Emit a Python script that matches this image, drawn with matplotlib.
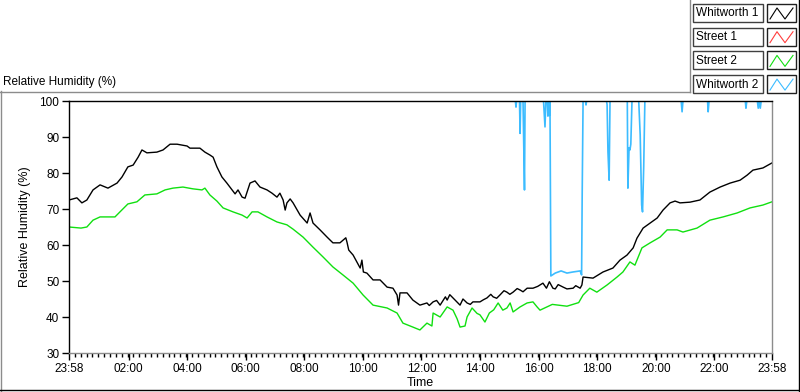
import matplotlib
matplotlib.use("Agg")
import matplotlib.pyplot as plt
from matplotlib.lines import Line2D
from matplotlib.patches import Rectangle

plt.rcParams['font.family'] = ['Liberation Sans', 'DejaVu Sans']

# hours after 23:58 and relative humidity
whit1_t = [0, 0.27, 0.44, 0.61, 0.82, 1.06, 1.33, 1.64, 1.81, 2.01, 2.19, 2.36, 2.49, 2.66,
           3.0, 3.21, 3.45, 3.69, 4.03, 4.13, 4.47, 4.64, 4.81, 4.92, 5.05, 5.22, 5.39,
           5.57, 5.67, 5.77, 5.91, 6.01, 6.18, 6.35, 6.52, 6.76, 6.93, 7.10, 7.20, 7.31,
           7.38, 7.44, 7.55, 7.65, 7.89, 8.13, 8.23, 8.33, 8.57, 8.81, 9.01, 9.25, 9.45,
           9.49, 9.55, 9.70, 9.94, 10.0, 10.05, 10.17, 10.38, 10.62, 10.86, 11.06, 11.20,
           11.25, 11.30, 11.54, 11.74, 11.98,
           12.22, 12.30, 12.43, 12.55, 12.67, 12.85, 12.91, 13.0, 13.11, 13.35, 13.45,
           13.59, 13.70, 13.79, 14.03, 14.15, 14.27, 14.40, 14.48, 14.60, 14.71, 14.85,
           14.95, 15.05, 15.16, 15.30, 15.40, 15.50, 15.64, 15.84, 16.0, 16.18, 16.30,
           16.40, 16.52, 16.60, 16.70, 16.87, 17.0, 17.21, 17.30, 17.45, 17.51,
           17.55, 17.89, 18.23, 18.57, 18.81,
           19.05, 19.26, 19.39, 19.60, 19.84, 20.08, 20.28, 20.52, 20.69, 20.86, 21.20,
           21.54, 21.88, 22.23, 22.57, 22.91, 23.15, 23.35, 23.69, 24.0]
whit1_v = [72.5, 73.1, 71.7, 72.5, 75.3, 76.7, 75.8, 77.2, 78.9, 81.7, 82.2, 84.4, 86.4, 85.6,
           85.8, 86.4, 88.0, 88.0, 87.5, 86.9, 86.9, 85.8, 85.0, 84.4, 81.7, 78.9, 77.2,
           75.3, 74.2, 75.3, 73.3, 73.0, 77.2, 77.8, 76.1, 75.3, 74.4, 73.3, 74.4, 72.5,
           69.7, 71.7, 72.8, 71.7, 68.3, 66.1, 68.9, 66.1, 64.2, 62.2, 60.6, 60.6, 62.0,
           60.8, 58.6, 57.2, 53.6, 55.8, 52.5, 52.2, 50.3, 50.3, 48.3, 48.0, 46.1,
           43.3, 46.7, 46.7, 44.7, 43.3,
           43.9, 43.2, 44.2, 44.6, 43.3, 45.6, 44.7, 46.2, 45.3, 43.3, 45.0,
           43.9, 43.5, 44.2, 44.2, 44.8, 45.3, 46.3, 45.6, 45.2, 46.1, 47.3,
           46.9, 46.3, 46.9, 47.9, 47.5, 47.0, 48.0, 48.0, 48.5, 49.4, 48.0,
           49.8, 48.0, 47.8, 49.0, 48.3, 47.8, 48.0, 48.7, 48.0, 48.9,
           51.1, 50.8, 52.5, 53.6, 55.8,
           57.2, 59.2, 61.9, 64.7, 66.1, 67.5, 69.7, 71.7, 72.2, 71.7, 71.9,
           72.5, 74.7, 76.1, 77.2, 78.0, 79.4, 80.8, 81.4, 82.8]

street2_t = [0, 0.41, 0.61, 0.82, 1.06, 1.40, 1.57, 1.74, 2.01, 2.32, 2.59, 3.0, 3.28, 3.55,
             3.89, 4.23, 4.54, 4.64, 4.81, 5.05, 5.26, 5.60, 5.91, 6.08, 6.25, 6.45, 6.76,
             7.10, 7.44, 7.65, 7.99, 8.33, 8.67, 9.01, 9.35, 9.70, 10.04, 10.38, 10.86,
             11.20, 11.40, 11.74, 11.98, 12.22, 12.39, 12.43, 12.67,
             12.91, 13.11, 13.25, 13.35, 13.52, 13.59, 13.76, 13.93, 14.03, 14.20, 14.35,
             14.50, 14.65, 14.81, 14.95, 15.06, 15.16, 15.40, 15.64, 15.84, 15.98, 16.08,
             16.5, 17.0, 17.4, 17.55, 17.78, 18.02, 18.37, 18.71, 18.91, 19.15, 19.32,
             19.56, 19.84, 20.18, 20.42, 20.76, 20.96, 21.44, 21.88, 22.33, 22.81, 23.25,
             23.69, 24.0]
street2_v = [65.0, 64.7, 65.0, 66.9, 67.8, 67.8, 67.8, 69.2, 71.4, 72.0, 73.9, 74.2, 75.3, 75.8,
             76.1, 75.6, 75.3, 75.8, 73.9, 72.2, 70.3, 69.2, 68.3, 67.5, 69.2, 69.2, 67.8,
             66.4, 65.6, 64.4, 62.2, 59.4, 56.7, 53.9, 51.7, 49.4, 46.1, 43.3, 42.5,
             41.1, 38.3, 37.2, 36.4, 38.3, 37.5, 41.1, 40.0,
             42.8, 41.9, 39.5, 37.2, 37.5, 40.0, 42.5, 41.0, 40.6, 38.6, 41.1,
             42.0, 43.9, 41.9, 42.5, 43.9, 41.4, 42.8, 43.9, 44.2, 42.8, 41.9,
             43.5, 43.0, 44.0, 46.1, 48.0, 46.9, 48.9, 51.1, 52.5, 55.3, 54.4,
             59.2, 60.6, 62.2, 64.2, 64.2, 63.6, 64.7, 66.9, 67.8, 68.9, 70.3,
             71.1, 72.0]

whit2_t = [0, 15.24, 15.26, 15.28, 15.38, 15.40, 15.42, 15.50, 15.53, 15.55, 15.57, 16.2,
           16.25, 16.28, 16.33, 16.35, 16.38, 16.40, 16.42, 16.45, 16.6, 16.8, 17.0, 17.2,
           17.45, 17.50, 17.52, 17.55, 17.63, 17.65, 17.67, 18.35, 18.37, 18.40, 18.44,
           18.47, 18.50, 19.06, 19.08, 19.12, 19.15, 19.18, 19.22, 19.45, 19.50, 19.55,
           19.58, 19.62, 19.66, 19.70, 20.90, 20.93, 20.96, 21.80, 21.82, 21.85, 23.09,
           23.11, 23.14, 23.50, 23.53, 23.56, 23.60, 23.63, 24.0]
whit2_v = [100, 100, 98.3, 100, 100, 91, 100, 100, 85, 75.3, 100, 100,
           92.8, 100, 100, 95.8, 100, 96, 100, 51.4, 52.2, 52.8, 52.2, 52.5,
           52.8, 51.7, 74, 100, 100, 98.9, 100, 100, 99, 85.8, 78, 100, 100,
           100, 75.8, 87, 86.4, 88, 100, 100, 90.6, 71.1, 69.2, 81.7, 100, 100,
           100, 97, 100, 100, 97, 100, 100, 98, 100, 100, 98, 100, 98, 100, 100]

series_names = ['Whitworth 1', 'Street 1', 'Street 2', 'Whitworth 2']
series_colors = ['#000000', '#ff3c3c', '#10e010', '#3cbcff']

tick_pos = [0] + [h + 2 / 60 for h in range(2, 24, 2)] + [24]
tick_labels = ['23:58'] + ['%02d:00' % h for h in range(2, 24, 2)] + ['23:58']

fig = plt.figure(figsize=(8, 3.92), dpi=100)
W, H = 800, 392


def fx(px):
    return px / W


def fy(py):
    return 1 - py / H


ax = fig.add_axes([fx(69), fy(353), fx(772) - fx(69), fy(101) - fy(353)])

ax.plot(street2_t, street2_v, color=series_colors[2], lw=1.0)
ax.plot(whit1_t, whit1_v, color=series_colors[0], lw=1.0)
ax.plot(whit2_t, whit2_v, color=series_colors[3], lw=1.2)

ax.set_xlim(0, 24)
ax.set_ylim(30, 100)
ax.set_yticks(range(30, 101, 10))
ax.set_xticks(tick_pos)
ax.set_xticklabels(tick_labels)
ax.set_xticks([i * 0.2 for i in range(121)], minor=True)
ax.tick_params(axis='both', which='major', labelsize=8.5, length=5, width=1,
               direction='out', pad=2, color='black')
ax.tick_params(axis='x', which='minor', length=3, width=1, direction='out', color='black')

ax.spines['left'].set_color('black')
ax.spines['top'].set_color('black')
ax.spines['right'].set_color('#8c8c8c')
ax.spines['bottom'].set_color('#8c8c8c')
for s in ax.spines.values():
    s.set_linewidth(1.0)

ax.set_xlabel('Time', fontsize=9, labelpad=2)
ax.set_ylabel('Relative Humidity (%)', fontsize=9, labelpad=6)

# panel frame
fig.add_artist(Line2D([fx(0.5), fx(0.5)], [fy(91), fy(391)], color='#8c8c8c', lw=1))
fig.add_artist(Line2D([fx(0), fx(690)], [fy(91.5), fy(91.5)], color='#8c8c8c', lw=1))
fig.add_artist(Line2D([fx(689.5), fx(689.5)], [fy(0), fy(92)], color='#8c8c8c', lw=1))
fig.add_artist(Line2D([fx(0), fx(799)], [fy(390), fy(390)], color='black', lw=1))
fig.add_artist(Line2D([fx(798.5), fx(798.5)], [fy(0), fy(391)], color='black', lw=1))

fig.text(fx(3), fy(82), 'Relative Humidity (%)', fontsize=8.5, va='center', ha='left')

# legend
for i, (name, col) in enumerate(zip(series_names, series_colors)):
    top = 4 + i * 23.7
    fig.add_artist(Rectangle((fx(693), fy(top + 18)), fx(70), 18 / H, fill=False,
                             edgecolor='#404040', lw=1))
    fig.add_artist(Rectangle((fx(767), fy(top + 18)), fx(29), 18 / H, fill=False,
                             edgecolor='#202020', lw=1))
    fig.text(fx(695.5), fy(top + 9.5), name, fontsize=8.5, va='center', ha='left')
    zx = [770, 777, 785, 793]
    zy = [top + 15, top + 4, top + 15, top + 4]
    fig.add_artist(Line2D([fx(v) for v in zx], [fy(v) for v in zy], color=col, lw=0.8))

fig.savefig('out.png', dpi=100)
